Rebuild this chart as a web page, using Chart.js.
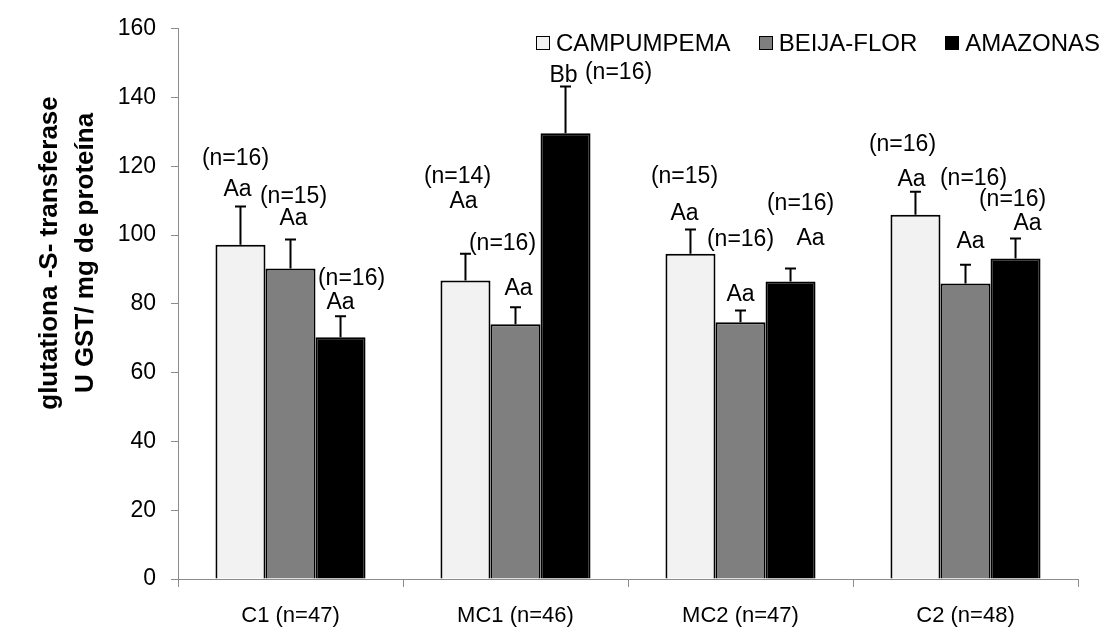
<!DOCTYPE html>
<html>
<head>
<meta charset="utf-8">
<script src="https://cdn.jsdelivr.net/npm/chart.js@4"></script>
<style>
  html, body { margin: 0; padding: 0; background: #fff; }
  #wrap { width: 1102px; height: 634px; }
</style>
</head>
<body>
<div id="wrap"><canvas id="gstChart" width="1102" height="634"></canvas></div>
<script>
// GST activity per site and campaign

const categories = ['C1 (n=47)', 'MC1 (n=46)', 'MC2 (n=47)', 'C2 (n=48)'];

const campumpema = [97.2, 86.8, 94.6, 105.9];
const campumpemaErr = [11.1, 7.8, 7.0, 6.7];
const beijaFlor = [90.3, 74.1, 74.7, 85.9];
const beijaFlorErr = [8.4, 4.9, 3.4, 5.5];
const amazonas = [70.3, 129.6, 86.5, 93.2];
const amazonasErr = [6.1, 13.6, 3.8, 5.8];

const yTicks = [0, 20, 40, 60, 80, 100, 120, 140, 160];
const yTitle = ['glutationa -S- transferase', 'U GST/ mg de proteína'];

// sample sizes and significance letters above each bar
const campumpemaN = ['(n=16)', '(n=14)', '(n=15)', '(n=16)'];
const campumpemaLetters = ['Aa', 'Aa', 'Aa', 'Aa'];
const beijaFlorN = ['(n=15)', '(n=16)', '(n=16)', '(n=16)'];
const beijaFlorLetters = ['Aa', 'Aa', 'Aa', 'Aa'];
const amazonasN = ['(n=16)', '(n=16)', '(n=16)', '(n=16)'];
const amazonasLetters = ['Aa', 'Bb', 'Aa', 'Aa'];

// height (in y units) where those labels sit
const campumpemaNAt = [122.1, 116.9, 116.9, 126.2];
const campumpemaLetterAt = [113.1, 109.7, 106.2, 116.0];
const beijaFlorNAt = [111.1, 97.5, 98.7, 116.3];
const beijaFlorLetterAt = [104.7, 84.5, 82.8, 98.1];
const amazonasNAt = [87.4, 147.3, 109.1, 110.2];
const amazonasLetterAt = [80.4, 146.4, 99.0, 103.3];

// sideways nudge of the labels, px
const campumpemaNShift = [-5, -8, -6, -13];
const campumpemaLetterShift = [-3, -2, -6, -4];
const beijaFlorNShift = [3, -13, 0, 8];
const beijaFlorLetterShift = [3, 3, 0, 5];
const amazonasNShift = [11, 53, 10, -3];
const amazonasLetterShift = [0, -2, 20, 12];

const FONT = "'Liberation Sans', Arial, sans-serif";

const series = [
    { label: 'CAMPUMPEMA', data: campumpema, err: campumpemaErr, color: '#f2f2f2',
      n: campumpemaN, nAt: campumpemaNAt, nShift: campumpemaNShift,
      letters: campumpemaLetters, letterAt: campumpemaLetterAt, letterShift: campumpemaLetterShift },
    { label: 'BEIJA-FLOR', data: beijaFlor, err: beijaFlorErr, color: '#7f7f7f',
      n: beijaFlorN, nAt: beijaFlorNAt, nShift: beijaFlorNShift,
      letters: beijaFlorLetters, letterAt: beijaFlorLetterAt, letterShift: beijaFlorLetterShift },
    { label: 'AMAZONAS', data: amazonas, err: amazonasErr, color: '#000000',
      n: amazonasN, nAt: amazonasNAt, nShift: amazonasNShift,
      letters: amazonasLetters, letterAt: amazonasLetterAt, letterShift: amazonasLetterShift }
];

// error bars + labels over the bars
const barExtras = {
    id: 'barExtras',
    afterDatasetsDraw(chart) {
        const ctx = chart.ctx;
        const y = chart.scales.y;
        ctx.save();
        chart.data.datasets.forEach((ds, i) => {
            const meta = chart.getDatasetMeta(i);
            meta.data.forEach((bar, j) => {
                const top = y.getPixelForValue(ds.data[j] + ds.err[j]);
                ctx.strokeStyle = '#000';
                ctx.lineWidth = 2;
                ctx.beginPath();
                ctx.moveTo(bar.x, bar.y);
                ctx.lineTo(bar.x, top);
                ctx.moveTo(bar.x - 5.5, top);
                ctx.lineTo(bar.x + 5.5, top);
                ctx.stroke();

                ctx.fillStyle = '#000';
                ctx.font = '23px ' + FONT;
                ctx.textAlign = 'center';
                ctx.textBaseline = 'middle';
                ctx.fillText(ds.n[j], bar.x + ds.nShift[j], y.getPixelForValue(ds.nAt[j]));
                ctx.fillText(ds.letters[j], bar.x + ds.letterShift[j], y.getPixelForValue(ds.letterAt[j]));
            });
        });
        ctx.restore();
    }
};

// legend sits inside the plot, top right; y title placed by hand
const sideText = {
    id: 'sideText',
    afterDraw(chart) {
        const ctx = chart.ctx;
        ctx.save();
        ctx.font = '24px ' + FONT;
        ctx.textBaseline = 'middle';
        ctx.textAlign = 'left';
        const box = 14, boxGap = 6, itemGap = 28, yMid = 43;
        let x = 1100;
        const starts = [];
        chart.data.datasets.slice().reverse().forEach(ds => {
            x -= ctx.measureText(ds.label).width;
            starts.unshift({ ds, textX: x });
            x -= boxGap + box + itemGap;
        });
        starts.forEach(({ ds, textX }) => {
            const bx = Math.round(textX - boxGap - box);
            ctx.fillStyle = ds.backgroundColor;
            ctx.fillRect(bx, yMid - box / 2, box, box);
            ctx.strokeStyle = '#000';
            ctx.lineWidth = 1;
            ctx.strokeRect(bx + 0.5, yMid - box / 2 + 0.5, box - 1, box - 1);
            ctx.fillStyle = '#000';
            ctx.fillText(ds.label, textX, yMid + 1);
        });

        ctx.translate(0, 253);
        ctx.rotate(-Math.PI / 2);
        ctx.textAlign = 'center';
        ctx.font = 'bold 26px ' + FONT;
        ctx.fillText(yTitle[0], 0, 50);
        ctx.fillText(yTitle[1], 0, 86);
        ctx.restore();
    }
};

const ctx = document.getElementById('gstChart').getContext('2d');

new Chart(ctx, {
    type: 'bar',
    data: {
        labels: categories,
        datasets: series.map(s => ({
            label: s.label,
            data: s.data,
            err: s.err,
            n: s.n, nAt: s.nAt, nShift: s.nShift,
            letters: s.letters, letterAt: s.letterAt, letterShift: s.letterShift,
            backgroundColor: s.color,
            borderColor: '#000',
            borderWidth: 2,
            borderSkipped: 'bottom',
            categoryPercentage: 0.667,
            barPercentage: 1.0
        }))
    },
    options: {
        responsive: false,
        animation: false,
        devicePixelRatio: 1,
        layout: { padding: { top: 26, right: 24, left: 0, bottom: 0 } },
        plugins: {
            legend: { display: false },
            tooltip: { enabled: false }
        },
        scales: {
            x: {
                grid: { drawOnChartArea: false, color: '#8c8c8c', tickLength: 8, offset: true },
                border: { color: '#8c8c8c', width: 1 },
                ticks: { color: '#000', font: { family: FONT, size: 22 }, padding: 16 },
                afterFit(scale) { scale.height = 55; }
            },
            y: {
                min: 0,
                max: 160,
                afterBuildTicks(scale) { scale.ticks = yTicks.map(v => ({ value: v })); },
                grid: { drawOnChartArea: false, color: '#8c8c8c', tickLength: 7 },
                border: { color: '#8c8c8c', width: 1 },
                ticks: { color: '#000', font: { family: FONT, size: 23 }, padding: 15 },
                afterFit(scale) { scale.width = 178; }
            }
        }
    },
    plugins: [barExtras, sideText]
});
</script>
</body>
</html>
